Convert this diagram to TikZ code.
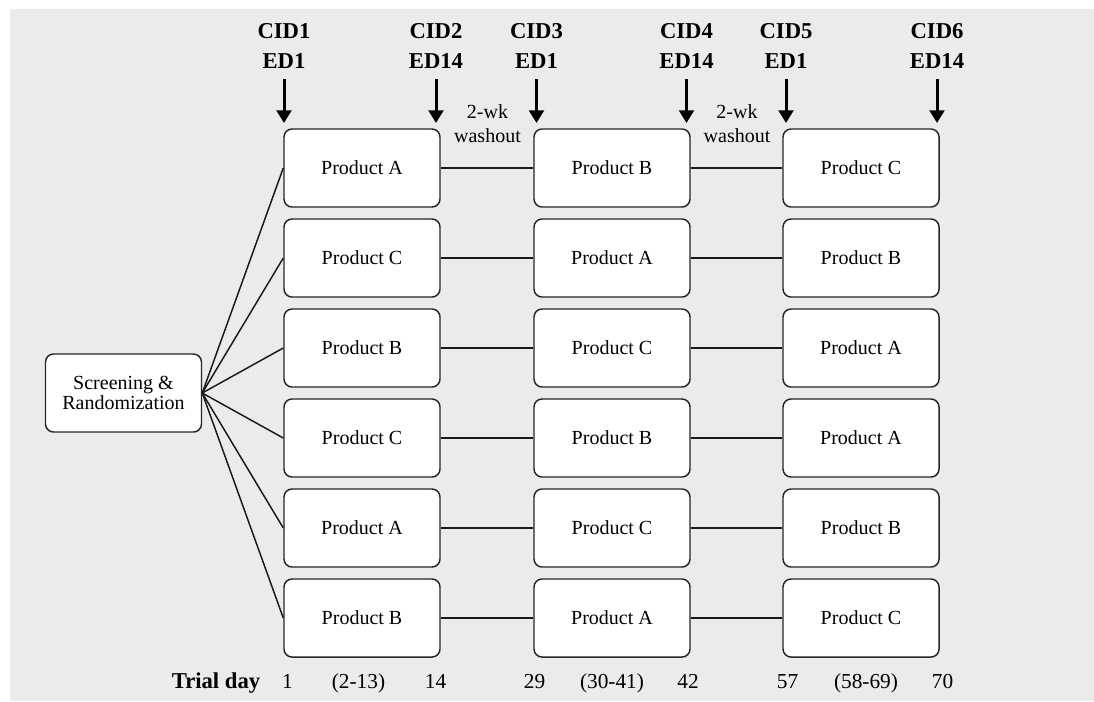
\documentclass[tikz,border=0pt]{standalone}
\usepackage{fontspec}
\setmainfont{Liberation Serif}
\usetikzlibrary{arrows.meta}
\definecolor{bggray}{HTML}{EBEBEB}

\begin{document}
\begin{tikzpicture}[x=0.75pt,y=-0.75pt]
\tikzstyle{prod}=[draw=black!85, line width=1.1pt, fill=white, rounded corners=6pt, minimum width=117pt, minimum height=58.5pt, align=center, inner sep=0pt, font=\fontsize{15}{15.5}\selectfont]
\tikzstyle{visit}=[align=center, anchor=south, inner sep=0pt, font=\fontsize{17}{22.5}\selectfont\bfseries]
\tikzstyle{wash}=[align=center, inner sep=0pt, font=\fontsize{15}{18}\selectfont]
\tikzstyle{day}=[anchor=base, inner sep=0pt, font=\fontsize{16}{18}\selectfont]
\tikzstyle{link}=[draw=black!90, line width=1.1pt]
\tikzstyle{visitarrow}=[line width=2.25pt, -{Triangle[width=11pt,length=9.5pt]}, shorten <=8pt]
\useasboundingbox (0,0) rectangle (1094,701);
\fill [bggray] (10,9) rectangle (1094,701);
\node [prod] (scr) at (123.5,393) {Screening \&\\Randomization};
\node [prod] (p11) at (362,168) {Product A};
\node [prod] (p12) at (612,168) {Product B};
\node [prod] (p13) at (861,168) {Product C};
\node [prod] (p21) at (362,258) {Product C};
\node [prod] (p22) at (612,258) {Product A};
\node [prod] (p23) at (861,258) {Product B};
\node [prod] (p31) at (362,348) {Product B};
\node [prod] (p32) at (612,348) {Product C};
\node [prod] (p33) at (861,348) {Product A};
\node [prod] (p41) at (362,438) {Product C};
\node [prod] (p42) at (612,438) {Product B};
\node [prod] (p43) at (861,438) {Product A};
\node [prod] (p51) at (362,528) {Product A};
\node [prod] (p52) at (612,528) {Product C};
\node [prod] (p53) at (861,528) {Product B};
\node [prod] (p61) at (362,618) {Product B};
\node [prod] (p62) at (612,618) {Product A};
\node [prod] (p63) at (861,618) {Product C};
\draw [link] (scr.east) -- (p11.west);
\draw [link] (scr.east) -- (p21.west);
\draw [link] (scr.east) -- (p31.west);
\draw [link] (scr.east) -- (p41.west);
\draw [link] (scr.east) -- (p51.west);
\draw [link] (scr.east) -- (p61.west);
\draw [link] (p11) -- (p12);
\draw [link] (p12) -- (p13);
\draw [link] (p21) -- (p22);
\draw [link] (p22) -- (p23);
\draw [link] (p31) -- (p32);
\draw [link] (p32) -- (p33);
\draw [link] (p41) -- (p42);
\draw [link] (p42) -- (p43);
\draw [link] (p51) -- (p52);
\draw [link] (p52) -- (p53);
\draw [link] (p61) -- (p62);
\draw [link] (p62) -- (p63);
\node [visit] (v1) at (284,68.5) {CID1\\ED1};
\node [visit] (v2) at (436,68.5) {CID2\\ED14};
\node [visit] (v3) at (536.5,68.5) {CID3\\ED1};
\node [visit] (v4) at (686.5,68.5) {CID4\\ED14};
\node [visit] (v5) at (786,68.5) {CID5\\ED1};
\node [visit] (v6) at (937,68.5) {CID6\\ED14};
\coordinate (a1) at (284,123);
\coordinate (a2) at (436,123);
\coordinate (a3) at (536.5,123);
\coordinate (a4) at (686.5,123);
\coordinate (a5) at (786,123);
\coordinate (a6) at (937,123);
\draw [visitarrow] (v1.south) -- (a1);
\draw [visitarrow] (v2.south) -- (a2);
\draw [visitarrow] (v3.south) -- (a3);
\draw [visitarrow] (v4.south) -- (a4);
\draw [visitarrow] (v5.south) -- (a5);
\draw [visitarrow] (v6.south) -- (a6);
\node [wash] (w1) at (487.5,124) {2-wk\\washout};
\node [wash] (w2) at (737,124) {2-wk\\washout};
\node [day, font=\fontsize{17}{20}\selectfont\bfseries] (td) at (216,688) {Trial day};
\node [day] (d1) at (287.5,688) {1};
\node [day] (d2) at (358.5,688) {(2-13)};
\node [day] (d3) at (435.5,688) {14};
\node [day] (d4) at (534.5,688) {29};
\node [day] (d5) at (612,688) {(30-41)};
\node [day] (d6) at (688,688) {42};
\node [day] (d7) at (787.5,688) {57};
\node [day] (d8) at (866,688) {(58-69)};
\node [day] (d9) at (942.5,688) {70};
\end{tikzpicture}
\end{document}
